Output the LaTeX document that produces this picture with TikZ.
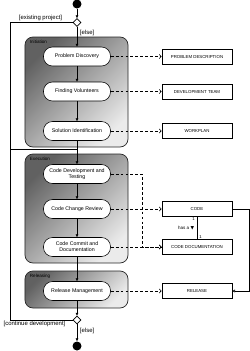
\documentclass[tikz,border=0pt]{standalone}
\usepackage{fontspec}
\setmainfont{Liberation Sans}
\newfontfamily\symfont{DejaVu Sans}
\usetikzlibrary{arrows.meta,shapes.geometric,shadows}

\begin{document}
\begin{tikzpicture}[
  x=0.5mm, y=-0.5mm,
  line width=0.8pt,
  activity/.style={draw, fill=white, rounded corners=4.5mm, minimum width=33.5mm, minimum height=9.5mm, inner sep=1pt, align=center, font=\fontsize{7.5}{8.5}\selectfont},
  artifact/.style={draw, fill=white, minimum width=35mm, minimum height=7.5mm, inner sep=1pt, font=\fontsize{6.2}{7}\selectfont,
    drop shadow={shadow xshift=0.35mm, shadow yshift=-0.35mm, fill=black!45, opacity=1}},
  part/.style={draw=black!85, line width=1pt, rounded corners=4mm, shading=axis, top color=black!62, bottom color=black!8, shading angle=45},
  partlabel/.style={anchor=north west, inner sep=0pt, font=\fontsize{6.5}{7}\selectfont},
  decision/.style={diamond, draw, fill=white, minimum width=4mm, minimum height=4mm, inner sep=0pt},
  initial/.style={circle, fill=black, minimum size=4.5mm, inner sep=0pt},
  guard/.style={inner sep=1pt, font=\fontsize{8.5}{9}\selectfont},
  mult/.style={inner sep=0.5pt, font=\fontsize{6}{6}\selectfont},
  flow/.style={-{Triangle[length=4pt,width=3.5pt]}},
  objflow/.style={dash pattern=on 4pt off 3pt, -{Straight Barb[length=3pt,width=6pt]}},
  genarrow/.style={-{Triangle[open,length=4pt,width=4pt]}}
]
\useasboundingbox (0,0) rectangle (250,351);

% partitions
\node[part, minimum width=51.5mm, minimum height=55mm] (init) at (76.5,92) {};
\node[part, minimum width=51.5mm, minimum height=54.5mm] (exec) at (76.5,208.5) {};
\node[part, minimum width=51.5mm, minimum height=18.5mm] (relpart) at (76.5,289.5) {};
\node[partlabel] (initlabel) at ([shift={(5,3)}]init.north west) {Initiation};
\node[partlabel] (execlabel) at ([shift={(5,3)}]exec.north west) {Execution};
\node[partlabel] (rellabel) at ([shift={(5,3)}]relpart.north west) {Releasing};

% control nodes
\node[initial] (start) at (77,4) {};
\node[decision] (d1) at (77,22.5) {};
\node[decision] (d2) at (77,320) {};
\node[initial] (stop) at (77,346) {};
\coordinate (merge) at (77,149);
\coordinate (lm) at (10,149);

% activities
\node[activity] (pd) at (77,56.5) {Problem Discovery};
\node[activity] (fv) at (77,91.5) {Finding Volunteers};
\node[activity] (si) at (77,131) {Solution Identification};
\node[activity] (cdt) at (77,174) {Code Development and\\Testing};
\node[activity] (ccr) at (77,209) {Code Change Review};
\node[activity] (ccd) at (77,247) {Code Commit and\\Documentation};
\node[activity] (rm) at (77,291) {Release Management};

% artifacts
\node[artifact] (pdesc) at (197,56.5) {PROBLEM DESCRIPTION};
\node[artifact] (team) at (197,91.5) {DEVELOPMENT TEAM};
\node[artifact] (plan) at (197,131) {WORKPLAN};
\node[artifact] (code) at (197,209) {CODE};
\node[artifact] (cdoc) at (197,247) {CODE DOCUMENTATION};
\node[artifact] (rel) at (197,291) {RELEASE};
\coordinate (dv) at (142,247);
\coordinate (rt) at (249,291);

% guards
\node[guard, anchor=south] (gexist) at (40.5,22) {[existing project]};
\node[guard, anchor=west] (gelse1) at (79,33) {[else]};
\node[guard, anchor=north] (gcont) at (34.5,320.5) {[continue development]};
\node[guard, anchor=west] (gelse2) at (79,331) {[else]};

% control flow
\draw[flow] (start) -- (d1);
\draw[flow] (d1) -- (pd);
\draw[flow] (pd) -- (fv);
\draw[flow] (fv) -- (si);
\draw (si) -- (merge);
\draw[flow] (merge) -- (cdt);
\draw[flow] (cdt) -- (ccr);
\draw[flow] (ccr) -- (ccd);
\draw[flow] (ccd) -- (rm);
\draw[flow] (rm) -- (d2);
\draw[flow] (d2) -- (stop);
\draw (d1) -| (lm) -- (merge);
\draw (d2) -| (lm);

% object flow
\draw[objflow] (pd) -- (pdesc);
\draw[objflow] (fv) -- (team);
\draw[objflow] (si) -- (plan);
\draw[objflow] (ccr) -- (code);
\draw[objflow] (ccd) -- (cdoc);
\draw[objflow] (cdt) -| (dv) -- (cdoc);
\draw[objflow] (rm) -- (rel);

% association
\draw (code) -- (cdoc);
\node[mult] (m1) at (193.5,219) {1};
\node[mult] (m2) at (200.5,237) {1};
\node[guard, anchor=east] (hasa) at (195,228.5) {\fontsize{6.5}{7}\selectfont has a {\symfont ▼}};
\draw[genarrow] (code) -| (rt) -- (rel);
\end{tikzpicture}
\end{document}
